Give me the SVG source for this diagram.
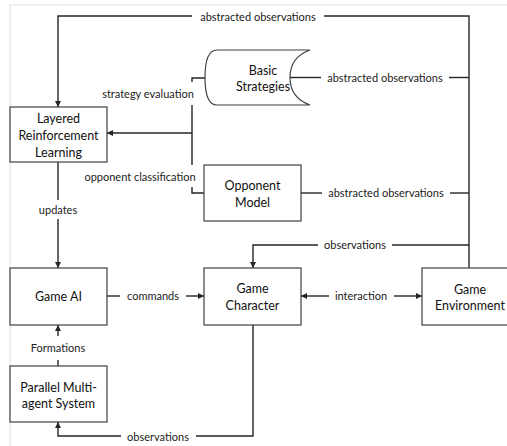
<svg xmlns="http://www.w3.org/2000/svg" width="507" height="446" viewBox="0 0 507 446">
<defs>
<marker id="ah" viewBox="0 0 6 6" refX="6" refY="3" markerWidth="6" markerHeight="6" markerUnits="userSpaceOnUse" orient="auto-start-reverse">
<path d="M0,0 L6,3 L0,6 z" fill="#262626"/>
</marker>
<style>
.box{fill:#fff;stroke:#404040;stroke-width:1.2}
.ln{fill:none;stroke:#262626;stroke-width:1.4}
.nt{font-family:Lato,"Open Sans",sans-serif;font-size:12.5px;fill:#111;text-anchor:middle;dominant-baseline:central}
.lb{font-family:Lato,"Open Sans",sans-serif;font-size:11px;fill:#222;text-anchor:middle;dominant-baseline:central}
</style>
</defs>
<rect width="507" height="446" fill="#fff"/>
<path d="M10,446 V5 H507" fill="none" stroke="#e3e3e3" stroke-width="1.2"/>

<g id="connectors">
<path class="ln" d="M469,268 V16 H324"/>
<path class="ln" d="M192,16 H58 V107" marker-end="url(#ah)"/>
<path class="ln" d="M290,77.5 H321"/>
<path class="ln" d="M449,77.5 H469"/>
<path class="ln" d="M301,193 H322"/>
<path class="ln" d="M450,193 H469"/>
<path class="ln" d="M469,245 H392"/>
<path class="ln" d="M318,245 H253 V268" marker-end="url(#ah)"/>
<path class="ln" d="M205,78 H192 V82"/>
<path class="ln" d="M192,105 V165"/>
<path class="ln" d="M192,187 V193 H204"/>
<path class="ln" d="M192,133 H107" marker-end="url(#ah)"/>
<path class="ln" d="M58,162 V200"/>
<path class="ln" d="M58,219 V268" marker-end="url(#ah)"/>
<path class="ln" d="M107,296 H120"/>
<path class="ln" d="M186,296 H204" marker-end="url(#ah)"/>
<path class="ln" d="M329,296 H301" marker-end="url(#ah)"/>
<path class="ln" d="M394,296 H422" marker-end="url(#ah)"/>
<path class="ln" d="M58,360 V366"/>
<path class="ln" d="M58,336 V325" marker-end="url(#ah)"/>
<path class="ln" d="M253,325 V436 H196"/>
<path class="ln" d="M121,436 H58 V422" marker-end="url(#ah)"/>
<text class="lb" x="258" y="16">abstracted observations</text>
<text class="lb" x="385" y="77">abstracted observations</text>
<text class="lb" x="386" y="192">abstracted observations</text>
<text class="lb" x="355" y="244">observations</text>
<text class="lb" x="148" y="93">strategy evaluation</text>
<text class="lb" x="140" y="176">opponent classification</text>
<text class="lb" x="58" y="209">updates</text>
<text class="lb" x="153" y="295">commands</text>
<text class="lb" x="361" y="295">interaction</text>
<text class="lb" x="58" y="347">Formations</text>
<text class="lb" x="158" y="436">observations</text>
</g>

<g id="layered-rl">
<rect class="box" x="10" y="107" width="97" height="55"/>
<text class="nt" x="58.5" y="118">Layered</text>
<text class="nt" x="58.5" y="135">Reinforcement</text>
<text class="nt" x="58.5" y="152">Learning</text>
</g>
<g id="basic-strategies">
<path class="box" d="M217,50 H310 C296,55 290,65 290,77.5 C290,90 296,100 310,105 H217 C208,105 205,93 205,77.5 C205,62 208,50 217,50 Z"/>
<text class="nt" x="263" y="70">Basic</text>
<text class="nt" x="263" y="86">Strategies</text>
</g>
<g id="opponent-model">
<rect class="box" x="204" y="165" width="97" height="56"/>
<text class="nt" x="252.5" y="185">Opponent</text>
<text class="nt" x="252.5" y="202">Model</text>
</g>
<g id="game-ai">
<rect class="box" x="10" y="268" width="97" height="57"/>
<text class="nt" x="58.5" y="296">Game AI</text>
</g>
<g id="game-character">
<rect class="box" x="204" y="268" width="97" height="57"/>
<text class="nt" x="252.5" y="288">Game</text>
<text class="nt" x="252.5" y="305">Character</text>
</g>
<g id="game-environment">
<rect class="box" x="422" y="268" width="100" height="57"/>
<text class="nt" x="470" y="289">Game</text>
<text class="nt" x="470" y="305">Environment</text>
</g>
<g id="parallel-mas">
<rect class="box" x="10" y="366" width="97" height="56"/>
<text class="nt" x="58.5" y="387">Parallel Multi-</text>
<text class="nt" x="58.5" y="403">agent System</text>
</g>
</svg>
